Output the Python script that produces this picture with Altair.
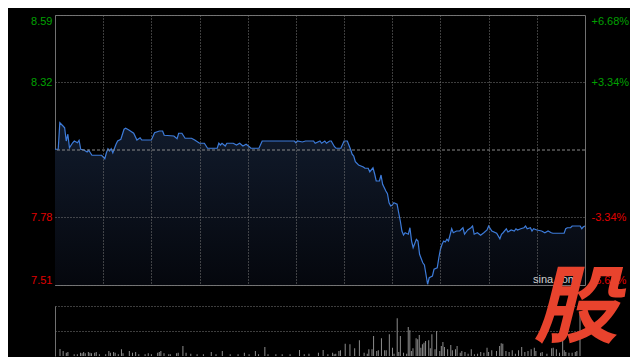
import altair as alt
import pandas as pd

# ---- data ----
minutes = [0, 2, 3, 5, 6, 7, 8, 9, 11, 12, 14, 15, 16, 18, 20, 21, 22, 23, 29, 31,
           32, 33, 34, 35, 36, 38, 39, 41, 43, 44, 46, 49, 51, 53, 54, 60, 62, 65, 67, 68,
           74, 76, 77, 79, 81, 85, 87, 90, 93, 95, 101, 102, 103, 104, 106, 107, 111, 113, 115, 117,
           119, 121, 122, 127, 129, 149, 150, 151, 154, 156, 161, 162, 165, 166, 168, 169, 171, 172, 174, 175,
           178, 180, 182, 184, 185, 186, 187, 189, 192, 193, 195, 196, 198, 199, 200, 202, 203, 204, 206, 207,
           208, 209, 210, 211, 213, 214, 215, 216, 217, 218, 220, 221, 222, 223, 225, 226, 227, 229, 230, 232,
           233, 235, 236, 238, 239, 240, 241, 242, 243, 244, 245, 247, 248, 250, 252, 254, 255, 257, 259, 260,
           261, 263, 265, 267, 269, 270, 272, 275, 277, 278, 279, 281, 282, 284, 286, 287, 288, 290, 292, 293,
           294, 296, 297, 298, 300, 303, 305, 307, 309, 310, 317, 318, 319, 321, 322, 327, 328, 329, 330]
prices = [8.053, 8.053, 8.159, 8.146, 8.139, 8.086, 8.113, 8.059, 8.079, 8.086, 8.079, 8.089, 8.053, 8.05, 8.042, 8.049, 8.039, 8.029, 8.029, 8.015,
          8.039, 8.055, 8.046, 8.055, 8.039, 8.073, 8.086, 8.093, 8.133, 8.137, 8.13, 8.117, 8.09, 8.099, 8.09, 8.09, 8.119, 8.126, 8.126, 8.109,
          8.106, 8.095, 8.117, 8.117, 8.097, 8.097, 8.09, 8.077, 8.077, 8.057, 8.057, 8.077, 8.07, 8.077, 8.066, 8.077, 8.077, 8.07, 8.077, 8.066,
          8.073, 8.063, 8.057, 8.057, 8.086, 8.086, 8.079, 8.086, 8.082, 8.086, 8.086, 8.077, 8.086, 8.077, 8.086, 8.077, 8.086, 8.086, 8.063, 8.057,
          8.057, 8.086, 8.086, 8.053, 8.033, 8.026, 8.003, 7.99, 7.982, 7.977, 7.977, 7.963, 7.979, 7.955, 7.926, 7.926, 7.95, 7.913, 7.886, 7.875,
          7.839, 7.826, 7.83, 7.839, 7.833, 7.799, 7.766, 7.726, 7.71, 7.719, 7.713, 7.739, 7.686, 7.659, 7.693, 7.686, 7.633, 7.599, 7.59, 7.513,
          7.539, 7.546, 7.573, 7.579, 7.619, 7.653, 7.673, 7.686, 7.682, 7.693, 7.686, 7.735, 7.719, 7.726, 7.726, 7.739, 7.713, 7.73, 7.739, 7.746,
          7.713, 7.719, 7.709, 7.719, 7.73, 7.746, 7.726, 7.717, 7.695, 7.713, 7.719, 7.735, 7.722, 7.73, 7.726, 7.735, 7.73, 7.735, 7.739, 7.746,
          7.735, 7.739, 7.726, 7.735, 7.73, 7.726, 7.719, 7.726, 7.719, 7.717, 7.717, 7.735, 7.739, 7.739, 7.746, 7.746, 7.735, 7.743, 7.746]

vol_minutes = [0, 2, 4, 5, 9, 11, 13, 14, 15, 16, 18, 19, 20, 22, 23, 25, 29, 31, 32, 34,
               35, 37, 39, 40, 44, 46, 48, 50, 54, 56, 58, 62, 63, 64, 66, 69, 70, 74, 75, 78,
               80, 83, 87, 91, 96, 99, 103, 108, 113, 117, 120, 124, 126, 130, 132, 137, 141, 146, 152, 155,
               158, 164, 167, 170, 173, 174, 175, 177, 178, 181, 184, 187, 190, 193, 195, 196, 198, 199, 201, 202,
               204, 206, 207, 209, 211, 212, 214, 215, 216, 218, 220, 221, 222, 223, 224, 226, 227, 228, 229, 230,
               231, 232, 234, 235, 236, 238, 239, 241, 242, 243, 244, 246, 248, 249, 251, 252, 254, 255, 257, 259,
               261, 263, 265, 267, 269, 271, 272, 274, 277, 279, 280, 281, 283, 285, 287, 289, 291, 293, 295, 297,
               299, 301, 302, 305, 306, 309, 312, 313, 315, 317, 319, 320, 321, 323, 325, 327, 328, 330]
vol_heights = [7, 5, 3.3, 4, 1.7, 1.7, 3.3, 2.7, 4, 2.7, 4, 3.3, 2.7, 3.3, 4, 1.7, 1.7, 5, 3.3, 4,
               3.3, 1.7, 6.7, 2.7, 5, 3.3, 4, 1.7, 1.7, 2.7, 1.7, 3.3, 4, 5, 2.7, 1.7, 1.7, 2.7, 3.3, 10,
               3.3, 2.3, 1.7, 1.7, 4, 1.7, 5, 1.7, 1.7, 3.3, 1.7, 5, 1.7, 9, 1.7, 1.7, 1.7, 1.7, 6, 1.7,
               2.3, 3.3, 6, 1.7, 3.3, 1.7, 2.3, 5, 5.7, 12.3, 11.7, 7.7, 15.7, 3.3, 2.3, 6.7, 6.7, 20, 5, 5.7,
               17.7, 5.7, 5.7, 21.7, 8.3, 2.3, 37.7, 4, 20, 3.3, 2.3, 29, 25.7, 5, 7.7, 17.7, 16.7, 21, 8.3, 11.7,
               13.3, 15, 15.7, 7.7, 21.7, 6.7, 25, 5, 10, 14, 9, 6.7, 11, 5.7, 6.7, 10, 3.3, 5, 4, 2.3,
               6.7, 1.7, 2.3, 4, 3.3, 8.3, 4, 5.7, 5, 10, 12.7, 12.3, 5, 4, 5.7, 2.3, 5.7, 9, 4, 5,
               6.7, 8.3, 5, 3.3, 4, 2.3, 7.7, 8.3, 6.7, 3.3, 23.3, 5.7, 4, 3.3, 3.3, 4, 5, 45]

prev_close = [8.05]
price_floor = 7.51
left_ticks = [7.51, 7.78, 8.32, 8.59]
right_ticks = [-6.68, -3.34, 3.34, 6.68]
time_grid = [30, 60, 90, 120, 150, 180, 210, 240, 270, 300]
vol_grid = [25, 50]
logo_text = ["股"]
site_text = ["sina.com"]

price_df = pd.DataFrame({"minute": minutes, "price": prices})
vol_df = pd.DataFrame({"minute": vol_minutes, "vol": vol_heights})

FONT = "Liberation Sans"
GRID = "#7a7a7a"
BORDER = "#707070"
GREEN = "#00a000"
RED = "#e00000"

x_scale = alt.Scale(domain=[0, 330], nice=False, zero=False)
y_scale = alt.Scale(domain=[7.51, 8.59], nice=False, zero=False)
pct_scale = alt.Scale(domain=[-6.68, 6.68], nice=False, zero=False)

x_axis = alt.Axis(values=time_grid, grid=True, gridColor=GRID, gridDash=[1, 2],
                  labels=False, ticks=False, domain=False, title=None, zindex=1)
left_axis = alt.Axis(values=left_ticks, orient="left", grid=True, gridColor=GRID,
                     gridDash=[1, 2], ticks=False, domain=False, title=None,
                     format=".2f", labelFlush=True, labelPadding=3, labelFont=FONT,
                     labelFontSize=11,
                     labelColor={"condition": {"test": "datum.value > 8.05", "value": GREEN}, "value": RED},
                     zindex=1)
right_axis = alt.Axis(values=right_ticks, orient="right", grid=False, ticks=False,
                      domain=False, title=None, labelFlush=True, labelPadding=6,
                      labelFont=FONT, labelFontSize=11,
                      labelExpr="(datum.value > 0 ? '+' : '-') + format(abs(datum.value), '.2f') + '%'",
                      labelColor={"condition": {"test": "datum.value > 0", "value": GREEN}, "value": RED})

area = alt.Chart(price_df).mark_area(
    color=alt.Gradient(gradient="linear",
                       stops=[alt.GradientStop(color="#111b2c", offset=0),
                              alt.GradientStop(color="#05070d", offset=1)],
                       x1=1, x2=1, y1=0, y2=1)
).encode(
    x=alt.X("minute:Q", scale=x_scale, axis=x_axis),
    y=alt.Y("price:Q", scale=y_scale, axis=left_axis),
    y2=alt.datum(price_floor),
)
line = alt.Chart(price_df).mark_line(color="#3d7bd9", strokeWidth=1.2).encode(
    x="minute:Q", y="price:Q"
)
base_rule = alt.Chart(pd.DataFrame({"pct": [0.0], "p": prev_close})).mark_rule(
    color="#8a8a8a", strokeDash=[3, 2], strokeWidth=1
).encode(y=alt.Y("pct:Q", scale=pct_scale, axis=right_axis))

price_panel = alt.layer(alt.layer(area, line), base_rule).resolve_scale(
    y="independent"
).properties(width=530, height=270,
             view=alt.ViewBackground(stroke=BORDER, strokeWidth=1))

vol_axis = alt.Axis(values=vol_grid, grid=True, gridColor=GRID, gridDash=[1, 2],
                    labels=False, ticks=False, domain=True, domainColor=BORDER,
                    title=None)
bars = alt.Chart(vol_df).mark_bar(color="#8c8c8c", width=1).encode(
    x=alt.X("minute:Q", scale=x_scale, axis=None),
    y=alt.Y("vol:Q", scale=alt.Scale(domain=[0, 50], nice=False), axis=vol_axis),
)
site = alt.Chart(pd.DataFrame({"t": site_text})).mark_text(
    font=FONT, fontSize=11, color="#cfcfcf", align="left", baseline="middle"
).encode(text="t:N", x=alt.value(478), y=alt.value(-26))
logo = alt.Chart(pd.DataFrame({"t": logo_text})).mark_text(
    font="Noto Sans CJK SC", fontSize=85, fontWeight="bold", fontStyle="italic",
    color="#e8432d", align="center", baseline="middle"
).encode(text="t:N", x=alt.value(521), y=alt.value(4))

volume_panel = alt.layer(bars, site, logo).properties(
    width=530, height=50,
    view=alt.ViewBackground(stroke="transparent")
)

chart = alt.vconcat(price_panel, volume_panel, spacing=21, bounds="flush").resolve_scale(
    x="independent", y="independent"
).properties(
    padding={"left": 22, "top": 6, "right": 0, "bottom": 0},
    background="black",
)

chart.save("out.html", embed_options={"renderer": "svg", "actions": False})
